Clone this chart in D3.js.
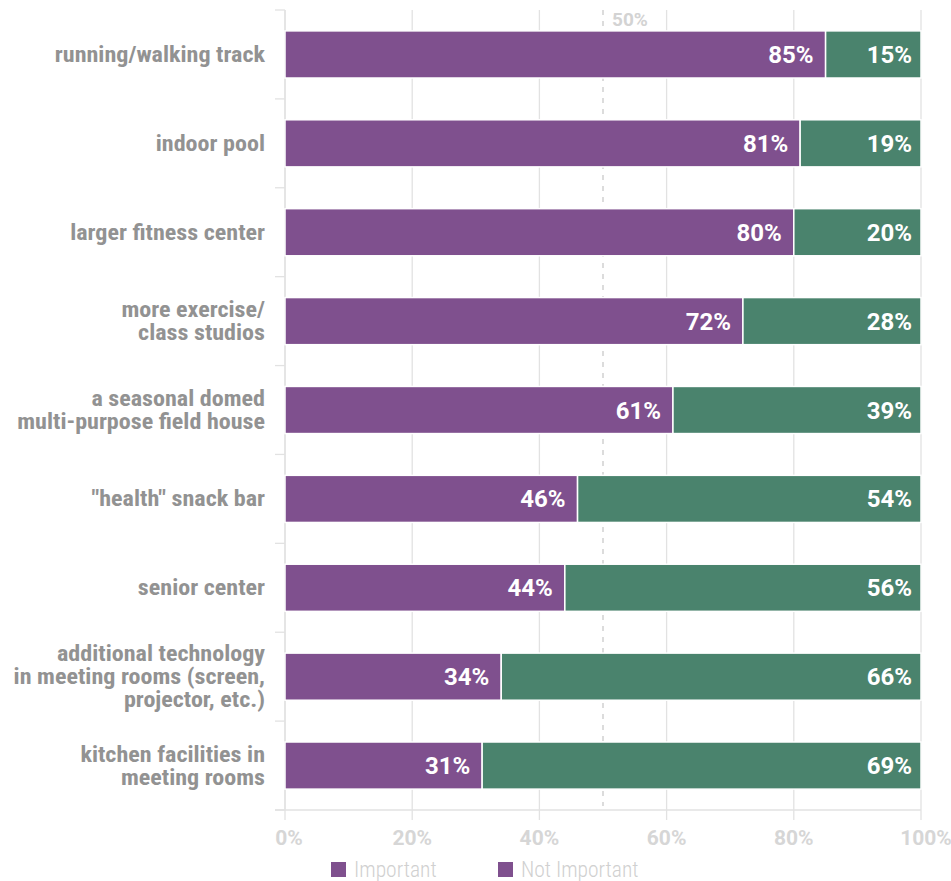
<!DOCTYPE html>
<html><head><meta charset="utf-8">
<script src="https://cdn.jsdelivr.net/npm/d3@7/dist/d3.min.js"></script>
<style>
body{margin:0;background:#fff;}
text{font-family:"Roboto","Liberation Sans",sans-serif;}
text.cond{font-family:"Roboto Condensed","Liberation Sans Narrow","Roboto",sans-serif;}
</style></head><body>
<svg id="c" width="951" height="881"></svg>
<script>
const categories = [
  ["running/walking track"],
  ["indoor pool"],
  ["larger fitness center"],
  ["more exercise/","class studios"],
  ["a seasonal domed","multi-purpose field house"],
  ["\"health\" snack bar"],
  ["senior center"],
  ["additional technology","in meeting rooms (screen,","projector, etc.)"],
  ["kitchen facilities in","meeting rooms"]
];
const important = [85, 81, 80, 72, 61, 46, 44, 34, 31];
const notImportant = [15, 19, 20, 28, 39, 54, 56, 66, 69];
const xTicks = [0, 20, 40, 60, 80, 100];
const seriesNames = ["Important", "Not Important"];

const svg = d3.select("#c");
const x = d3.scaleLinear().domain([0, 100]).range([285, 921]);
const y = d3.scaleBand().domain(d3.range(categories.length)).range([10, 810])
  .paddingInner(0.47).paddingOuter(0.235);
const purple = "#7f508e", green = "#4a836d";
const gridC = "#e2e2e2";

// gridlines
svg.append("g").selectAll("line").data(xTicks).join("line")
  .attr("x1", d => x(d)).attr("x2", d => x(d))
  .attr("y1", 10).attr("y2", 820)
  .attr("stroke", gridC).attr("stroke-width", 1.3);
// 50% dashed
svg.append("line").attr("x1", x(50)).attr("x2", x(50)).attr("y1", 10).attr("y2", 806)
  .attr("stroke", "#dcdcdc").attr("stroke-width", 2).attr("stroke-dasharray", "5,6");
svg.append("text").attr("x", 612).attr("y", 26).text("50%")
  .attr("fill", "#d3d3d3").attr("font-size", 19).attr("font-weight", "bold");

// y axis line & ticks
svg.append("line").attr("x1", 285).attr("x2", 285).attr("y1", 10).attr("y2", 810)
  .attr("stroke", gridC).attr("stroke-width", 1.3);
const bounds = d3.range(categories.length + 1).map(i => 10 + i * y.step());
svg.append("g").selectAll("line").data(bounds).join("line")
  .attr("x1", 275).attr("x2", 285).attr("y1", d => d).attr("y2", d => d)
  .attr("stroke", gridC).attr("stroke-width", 1.3);
// x axis line
svg.append("line").attr("x1", 275).attr("x2", 921).attr("y1", 810).attr("y2", 810)
  .attr("stroke", gridC).attr("stroke-width", 1.3);

// x tick labels
svg.append("g").selectAll("text").data(xTicks).join("text")
  .attr("x", (d, i) => x(d) + (i === 0 ? 4 : (i === xTicks.length - 1 ? 5 : 0)))
  .attr("y", 845)
  .attr("text-anchor", "middle")
  .attr("fill", "#d6d6d6").attr("font-size", 21).attr("font-weight", "bold")
  .text(d => d + "%");

// bars
const rows = svg.append("g").selectAll("g").data(categories).join("g");
rows.append("rect").attr("x", x(0)).attr("y", (d, i) => y(i))
  .attr("width", (d, i) => x(important[i]) - x(0)).attr("height", y.bandwidth())
  .attr("fill", purple).attr("stroke", "#fff").attr("stroke-width", 1.5);
rows.append("rect").attr("x", (d, i) => x(important[i])).attr("y", (d, i) => y(i))
  .attr("width", (d, i) => x(important[i] + notImportant[i]) - x(important[i])).attr("height", y.bandwidth())
  .attr("fill", green).attr("stroke", "#fff").attr("stroke-width", 1.5);
rows.append("text").attr("x", (d, i) => x(important[i]) - 12).attr("y", (d, i) => y(i) + y.bandwidth() / 2 + 8.5)
  .attr("text-anchor", "end").attr("fill", "#fff").attr("font-size", 24).attr("font-weight", "bold")
  .text((d, i) => important[i] + "%");
rows.append("text").attr("x", (d, i) => x(important[i] + notImportant[i]) - 9).attr("y", (d, i) => y(i) + y.bandwidth() / 2 + 8.5)
  .attr("text-anchor", "end").attr("fill", "#fff").attr("font-size", 24).attr("font-weight", "bold")
  .text((d, i) => notImportant[i] + "%");

// category labels (one text per category, lines as tspans)
const lh = 23;
rows.append("text").attr("class", "cat cond")
  .attr("transform", (d, i) => {
    const cy = y(i) + y.bandwidth() / 2;
    const y0 = cy - (d.length - 1) * lh / 2 + 7.5;
    return `translate(265,${y0}) scale(1.12,1)`;
  })
  .attr("text-anchor", "end").attr("fill", "#929292")
  .attr("font-size", 21.5).attr("font-weight", "bold")
  .each(function(d) {
    const t = d3.select(this);
    d.forEach((line, k) => t.append("tspan").attr("x", 0).attr("y", k * lh).text(line));
  });

// legend
const leg = svg.append("g").selectAll("g").data(seriesNames).join("g")
  .attr("transform", (d, i) => `translate(${[331, 498][i]},862)`);
leg.append("rect").attr("width", 15).attr("height", 15).attr("fill", purple);
leg.append("text").attr("class", "cond").attr("x", 23).attr("y", 15).attr("fill", "#d0d0d0")
  .attr("font-size", 21.5).attr("font-weight", 300)
  .text(d => d);
</script></body></html>
